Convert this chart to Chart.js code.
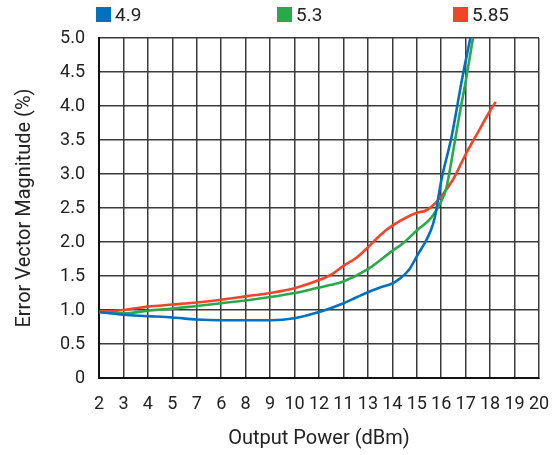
<!DOCTYPE html>
<html>
<head>
<meta charset="utf-8">
<script src="https://cdn.jsdelivr.net/npm/chart.js@4"></script>
<style>
  body { margin: 0; background: #fff; }
  #wrap { position: relative; width: 556px; height: 455px; }
  .key { position: absolute; top: 3px; font: 19px Roboto, sans-serif; color: #222; }
  .key span { display: inline-block; width: 15px; height: 15px; margin-right: 4px; vertical-align: -1px; }
</style>
</head>
<body>
<div id="wrap">
  <canvas id="chart" width="556" height="455"></canvas>
  <div class="key" style="left:96px"><span style="background:#0070c0"></span>4.9</div>
  <div class="key" style="left:277px"><span style="background:#2aa84a"></span>5.3</div>
  <div class="key" style="left:453px"><span style="background:#f0452a"></span>5.85</div>
</div>
<script>
// x tick labels as printed on the original (note the swapped 7/6 and 12/11)
var xTickLabels = ["2","3","4","5","7","6","8","9","10","12","11","13","14","15","16","17","18","19","20"];
var yTickLabels = ["0","0.5","1.0","1.5","2.0","2.5","3.0","3.5","4.0","4.5","5.0"];

// 4.9 GHz
var blueX = [2,3,4,5,6,7,8,9,10,11,11.5,12,12.5,13,13.5,14,14.3,14.7,15,15.35,15.55,15.73,16,16.43,16.84,17.19];
var blueY = [0.97,0.93,0.91,0.89,0.86,0.85,0.85,0.85,0.88,0.97,1.03,1.1,1.18,1.26,1.33,1.39,1.46,1.6,1.79,2.0,2.15,2.35,2.9,3.56,4.37,5.0];
// 5.3 GHz
var greenX = [2,3,4,5,6,7,8,9,10,11,11.5,12,13,14,14.4,15,15.6,16,16.2,16.48,16.75,17.02,17.3];
var greenY = [0.97,0.95,0.99,1.02,1.06,1.1,1.14,1.19,1.25,1.33,1.37,1.42,1.6,1.87,1.97,2.17,2.36,2.6,2.78,3.32,3.88,4.4,5.0];
// 5.85 GHz
var redX = [2,3,4,5,6,7,8,9,10,11,11.5,12,12.5,13,13.5,14,15,15.35,15.6,16,16.5,17,17.45,18,18.23];
var redY = [0.97,1.0,1.05,1.08,1.11,1.15,1.2,1.25,1.32,1.44,1.52,1.65,1.76,1.92,2.1,2.24,2.43,2.46,2.52,2.67,2.93,3.29,3.58,3.93,4.06];

function pts(xs, ys) {
  return xs.map(function (x, i) { return { x: x, y: ys[i] }; });
}

var font = "Roboto, sans-serif";

function series(xs, ys, color) {
  return {
    data: pts(xs, ys),
    borderColor: color,
    borderWidth: 2.6,
    pointRadius: 0,
    fill: false,
    cubicInterpolationMode: 'monotone'
  };
}

new Chart(document.getElementById('chart').getContext('2d'), {
  type: 'line',
  data: {
    datasets: [
      series(blueX, blueY, '#0070c0'),
      series(greenX, greenY, '#2aa84a'),
      series(redX, redY, '#f0452a')
    ]
  },
  options: {
    responsive: false,
    animation: false,
    layout: { padding: { left: 0, right: 17, top: 38, bottom: 4 } },
    plugins: { legend: { display: false }, tooltip: { enabled: false } },
    scales: {
      x: {
        type: 'linear',
        min: 2,
        max: 20,
        afterBuildTicks: function (s) {
          s.ticks = xTickLabels.map(function (t, i) { return { value: i + 2 }; });
        },
        afterFit: function (s) {
          s.height = 73;
          s.paddingLeft = 0;
          s.paddingRight = 0;
        },
        ticks: {
          autoSkip: false,
          maxRotation: 0,
          padding: 16,
          color: '#222',
          font: { family: font, size: 18 },
          callback: function (v, i) { return xTickLabels[i]; }
        },
        grid: { color: '#3a3a3a', lineWidth: 1.5, tickLength: 0 },
        border: { color: '#111', width: 2 },
        title: {
          display: true,
          text: 'Output Power (dBm)',
          color: '#222',
          font: { family: font, size: 20 },
          padding: { top: 9, bottom: 0 }
        }
      },
      y: {
        min: 0,
        max: 5,
        afterBuildTicks: function (s) {
          s.ticks = yTickLabels.map(function (t, i) { return { value: i * 0.5 }; });
        },
        afterFit: function (s) {
          s.width = 99;
          s.paddingTop = 0;
          s.paddingBottom = 0;
        },
        ticks: {
          padding: 14,
          color: '#222',
          font: { family: font, size: 18 },
          callback: function (v, i) { return yTickLabels[i]; }
        },
        grid: { color: '#3a3a3a', lineWidth: 1.5, tickLength: 0 },
        border: { color: '#111', width: 2 },
        title: {
          display: true,
          text: 'Error Vector Magnitude (%)',
          color: '#222',
          font: { family: font, size: 20 },
          padding: { top: 13, bottom: 0 }
        }
      }
    }
  }
});
</script>
</body>
</html>
